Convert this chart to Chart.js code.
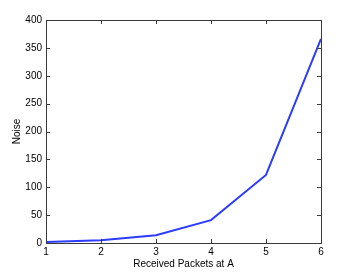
<!DOCTYPE html>
<html><head><meta charset="utf-8">
<script src="https://cdn.jsdelivr.net/npm/chart.js@4"></script>
<style>html,body{margin:0;padding:0;background:#fff}#w{width:355px;height:274px}</style>
</head><body><div id="w"><canvas id="c" width="355" height="274"></canvas></div>
<script>
const xValues = [1, 2, 3, 4, 5, 6];
const noiseValues = [2, 5, 14, 41, 122, 366];
const xTicks = [1, 2, 3, 4, 5, 6];
const yTicks = [0, 50, 100, 150, 200, 250, 300, 350, 400];

const boxPlugin = {
  id: 'box',
  afterDatasetsDraw(chart) {
    const {ctx, chartArea: a, scales: {x, y}} = chart;
    ctx.save();
    ctx.strokeStyle = '#3a3a3a';
    ctx.lineWidth = 1;
    ctx.beginPath();
    const L = 4;
    xTicks.forEach(v => {
      const px = Math.round(x.getPixelForValue(v)) + 0.5;
      ctx.moveTo(px, a.bottom); ctx.lineTo(px, a.bottom - L);
      ctx.moveTo(px, a.top); ctx.lineTo(px, a.top + L);
    });
    yTicks.forEach(v => {
      const py = Math.round(y.getPixelForValue(v)) + 0.5;
      ctx.moveTo(a.left, py); ctx.lineTo(a.left + L, py);
      ctx.moveTo(a.right, py); ctx.lineTo(a.right - L, py);
    });
    ctx.stroke();
    ctx.strokeRect(Math.round(a.left) + 0.5, Math.round(a.top) + 0.5, Math.round(a.right - a.left), Math.round(a.bottom - a.top));
    ctx.restore();
  }
};

const font = {family: '"Liberation Sans", Arial, Helvetica, sans-serif', size: 10};
new Chart(document.getElementById('c'), {
  type: 'line',
  data: {
    datasets: [{
      data: xValues.map((v, i) => ({x: v, y: noiseValues[i]})),
      borderColor: '#2b3cff',
      borderWidth: 2,
      pointRadius: 0,
      tension: 0,
      fill: false
    }]
  },
  options: {
    responsive: false,
    animation: false,
    events: [],
    layout: {padding: {left: 0, top: 20, right: 34, bottom: 0}},
    plugins: {legend: {display: false}, tooltip: {enabled: false}},
    scales: {
      x: {
        type: 'linear', min: 1, max: 6,
        afterBuildTicks: s => { s.ticks = xTicks.map(v => ({value: v})); },
        afterFit: s => { s.height = 31; },
        grid: {display: false, drawTicks: false},
        border: {display: false},
        ticks: {color: '#000', font, padding: 3, maxRotation: 0},
        title: {display: true, text: 'Received Packets at A', color: '#000', font, padding: {top: 0, bottom: 4}}
      },
      y: {
        type: 'linear', min: 0, max: 400,
        afterBuildTicks: s => { s.ticks = yTicks.map(v => ({value: v})); },
        afterFit: s => { s.width = 46; },
        grid: {display: false, drawTicks: false},
        border: {display: false},
        ticks: {color: '#000', font, padding: 4},
        title: {display: true, text: 'Noise', color: '#000', font, padding: {top: 11, bottom: 0}}
      }
    }
  },
  plugins: [boxPlugin]
});
</script></body></html>
